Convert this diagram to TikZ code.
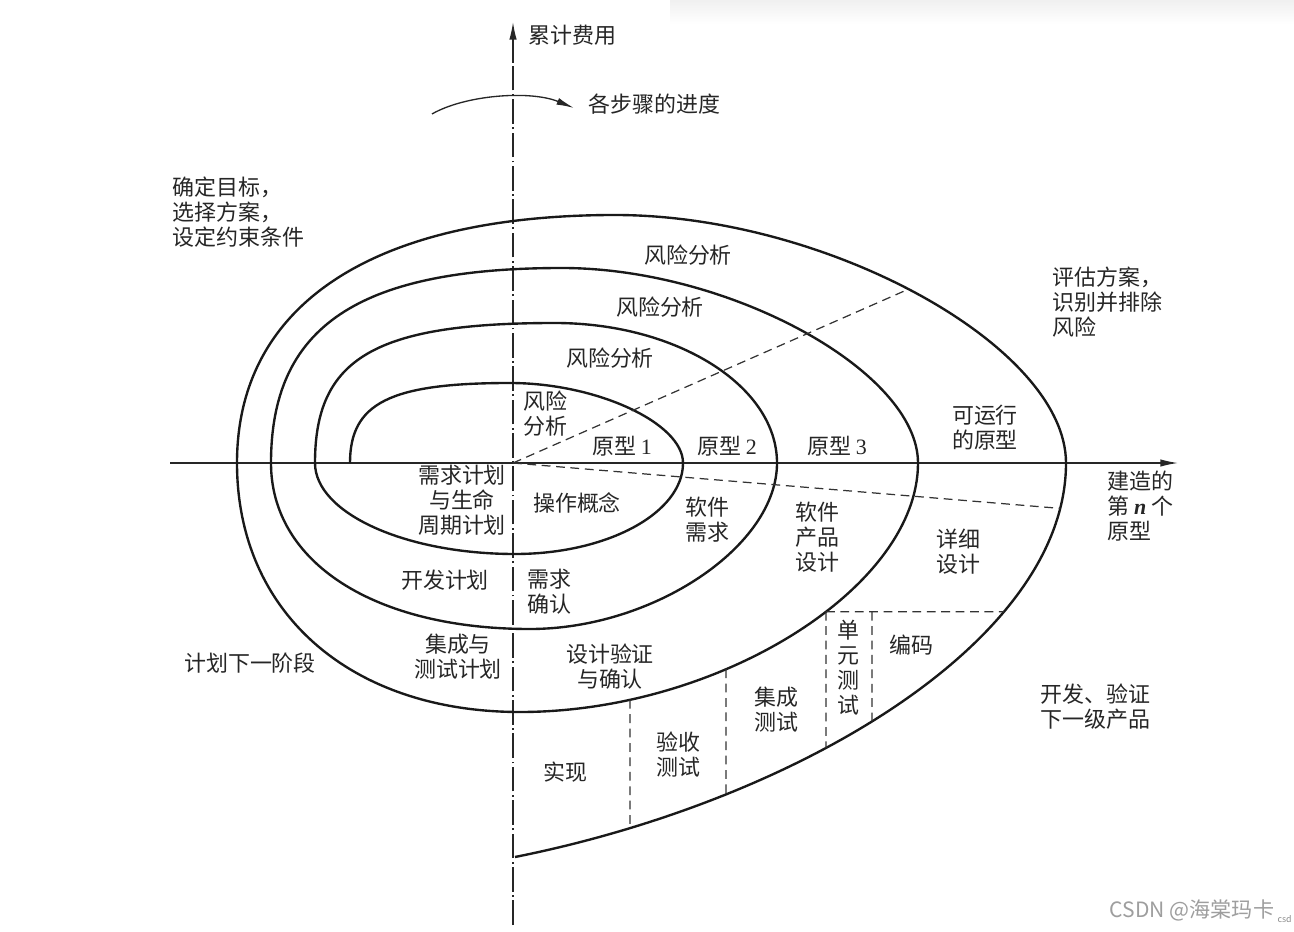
\documentclass[tikz,border=0pt]{standalone}
\usepackage{fontspec}
\setmainfont{Noto Sans CJK SC}
\newfontfamily\tms{Liberation Serif}
\usetikzlibrary{arrows.meta,intersections}
\begin{document}
\begin{tikzpicture}[x=0.02cm,y=-0.02cm,
  spiral/.style={line width=1.35pt, black!90, line join=round},
  axis/.style={line width=0.75pt, black!85},
  dashdot/.style={dash pattern=on 14pt off 2pt on 1pt off 2pt},
  dsh/.style={line width=0.7pt, black!80, dash pattern=on 5pt off 3.2pt},
  tip/.style={-{Latex[length=10pt,width=4.2pt]}},
  lbl/.style={inner sep=0pt, align=center, text=black!85, font=\fontsize{12.5}{14.2}\selectfont},
  wm/.style={inner sep=0pt, text=black!38, font=\fontsize{12}{14}\selectfont}]
\useasboundingbox (0,0) rectangle (1294,932);
\fill[white] (0,0) rectangle (1294,932);
\shade[top color=black!6, bottom color=white] (670,0) rectangle (1294,24);

% axes
\coordinate (O) at (513,463);
\coordinate (vtop) at (513,22);
\coordinate (vmid) at (513,62);
\coordinate (vbot) at (513,925);
\coordinate (hl) at (170,463);
\coordinate (hr) at (1178,463);
\draw[axis, dashdot] (vbot) -- (vmid);
\draw[axis, tip] (vmid) -- (vtop);
\draw[axis, tip] (hl) -- (hr);

% progress arrow
\coordinate (ca1) at (432,114);
\coordinate (ca2) at (574,108);
\draw[axis, -{Latex[length=10pt,width=4pt]}] (ca1) .. controls (465,95) and (530,90) .. (ca2);

% spiral key points
\coordinate (S) at (350,463);
\coordinate (R3) at (918,463);
\coordinate (B3) at (520,712);
\coordinate (P4) at (615,215);
\coordinate (R4) at (1066,463);
\coordinate (E) at (515,857);

\draw[spiral] (S)
 .. controls (350,403) and (390,383) .. (510,383)
 .. controls (596.5,383) and (683,423) .. (683,463)
 .. controls (683,513) and (607.4,554) .. (515,554)
 .. controls (405,554) and (315,513) .. (315,463)
 .. controls (315,358) and (375,323) .. (555,323)
 .. controls (677,323) and (777,386) .. (777,463)
 .. controls (777,546) and (653.5,629) .. (530,629)
 .. controls (374.6,629) and (271,562.6) .. (271,463)
 .. controls (271,326.5) and (358.3,268) .. (562,268)
 .. controls (729.3,268) and (918,371.3) .. (R3)
 .. controls (918,587.5) and (719,712) .. (B3)
 .. controls (350.2,712) and (237,612.4) .. (237,463)
 .. controls (237,304.3) and (373.1,215) .. (P4)
 .. controls (827,215) and (1066,346.4) .. (R4)
 .. controls (1066,640) and (800,800) .. (E);

% helper paths for the dashed lines
\path[name path=h6] (R3) .. controls (918,587.5) and (719,712) .. (B3);
\path[name path=h7] (P4) .. controls (827,215) and (1066,346.4) .. (R4);
\path[name path=h8] (R4) .. controls (1066,640) and (800,800) .. (E);
\path[name path=va] (630,600) -- (630,920);
\path[name path=vb] (726,600) -- (726,920);
\path[name path=vc] (826,560) -- (826,920);
\path[name path=vd] (872,560) -- (872,920);
\path[name path=ray1] (O) -- (1100,205);
\path[name path=ray2] (O) -- (1200,520);
\path[name intersections={of=h6 and va, by=a1}];
\path[name intersections={of=h8 and va, by=a2}];
\path[name intersections={of=h6 and vb, by=b1}];
\path[name intersections={of=h8 and vb, by=b2}];
\path[name intersections={of=h6 and vc, by=c1}];
\path[name intersections={of=h8 and vc, by=c2}];
\path[name path=hz] (c1) -- ++(350,0);
\path[name intersections={of=hz and vd, by=d1}];
\path[name intersections={of=h8 and vd, by=d2}];
\path[name intersections={of=h8 and hz, by=e2}];
\path[name intersections={of=h7 and ray1, by=ur}];
\path[name intersections={of=h8 and ray2, by=lr}];

\draw[dsh] (O) -- (ur);
\draw[dsh] (O) -- (lr);
\draw[dsh] (a1) -- (a2);
\draw[dsh] (b1) -- (b2);
\draw[dsh] (c1) -- (c2);
\draw[dsh] (d1) -- (d2);
\draw[dsh] (c1) -- (e2);

% labels
\node[lbl, anchor=west] (cost) at (528,35) {累计费用};
\node[lbl, anchor=west] (prog) at (588,104) {各步骤的进度};
\node[lbl, anchor=west, align=left] (obj) at (172,212) {确定目标，\\选择方案，\\设定约束条件};
\node[lbl, anchor=west, align=left] (eval) at (1052,302) {评估方案，\\识别并排除\\风险};
\node[lbl] (r4) at (688,255) {风险分析};
\node[lbl] (r3) at (660,307) {风险分析};
\node[lbl] (r2) at (610,358) {风险分析};
\node[lbl, anchor=west, align=left] (r1) at (523,414) {风险\\分析};
\node[lbl] (p1) at (622,446) {原型 {\tms 1}};
\node[lbl] (p2) at (727,446) {原型 {\tms 2}};
\node[lbl] (p3) at (837,446) {原型 {\tms 3}};
\node[lbl] (op) at (985,428) {可运行\\的原型};
\node[lbl] (req) at (462,500) {需求计划\\与生命\\周期计划};
\node[lbl] (con) at (577,503) {操作概念};
\node[lbl] (sr) at (707,520) {软件\\需求};
\node[lbl] (spd) at (817,537) {软件\\产品\\设计};
\node[lbl] (dd) at (958,552) {详细\\设计};
\node[lbl] (dp) at (445,580) {开发计划};
\node[lbl] (rv) at (549,592) {需求\\确认};
\node[lbl] (itp) at (458,657) {集成与\\测试计划};
\node[lbl] (dv) at (610,667) {设计验证\\与确认};
\node[lbl] (pn) at (250,663) {计划下一阶段};
\node[lbl, anchor=west, align=left] (nth) at (1107,506) {建造的\\第 {\tms\bfseries\itshape n} 个\\原型};
\node[lbl] (ut) at (848,668) {单\\元\\测\\试};
\node[lbl] (code) at (911,645) {编码};
\node[lbl] (it) at (776,710) {集成\\测试};
\node[lbl] (at) at (678,755) {验收\\测试};
\node[lbl] (impl) at (565,772) {实现};
\node[lbl, anchor=west, align=left] (dev) at (1040,707) {开发、验证\\下一级产品};
\node[wm] (wmk) at (1192,910) {CSDN @海棠玛卡};
\node[inner sep=0pt, text=black!45, font=\fontsize{5}{6}\selectfont, anchor=east] (wm2) at (1292,919) {csd};
\end{tikzpicture}
\end{document}
